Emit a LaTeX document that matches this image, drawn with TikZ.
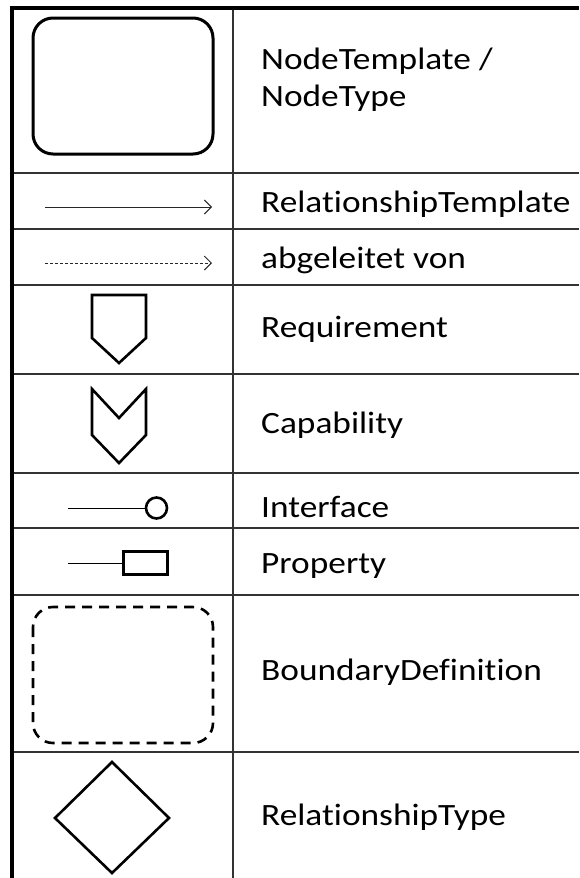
\documentclass[tikz,border=0pt]{standalone}
\usepackage{fontspec}
\setmainfont{Carlito}[FakeStretch=1.14,Ligatures=NoCommon]
\usetikzlibrary{arrows.meta}
\begin{document}
\begin{tikzpicture}[x=1pt,y=-1pt,
  grid/.style={line width=1.3pt,draw=black!80},
  frame/.style={line width=4pt,draw=black},
  symbol/.style={line width=2.6pt,draw=black,line join=miter},
  label/.style={anchor=base west,inner sep=0pt,font=\fontsize{31}{37}\selectfont},
  relarrow/.style={line width=1pt,draw=black!85,-{Straight Barb[length=7pt,width=14pt,line width=1pt]}}]
\useasboundingbox (0,0) rectangle (579,878);
% table grid
\foreach \y in {173,229,285,374,473,528,595,752}
  \draw[grid] (12,\y) -- (579,\y);
\draw[grid] (233,8) -- (233,878);
\draw[frame] (10,8) -- (579,8);
\draw[frame] (12,6) -- (12,878);

% symbols
\draw[symbol,line width=3pt,rounded corners=20pt] (33,18) rectangle (213,154);
\coordinate (r1) at (45,207); \coordinate (r2) at (212,207);
\draw[relarrow] (r1) -- (r2);
\coordinate (d1) at (45,263); \coordinate (d2) at (212,263);
\draw[relarrow,dash pattern=on 3pt off 2pt] (d1) -- (d2);
\draw[symbol] (92,295) -- (146,295) -- (146,338) -- (119,363) -- (92,338) -- cycle;
\draw[symbol] (92,389) -- (119,418) -- (146,389) -- (146,435) -- (119,463) -- (92,435) -- cycle;
\node[circle,symbol,minimum size=21pt,inner sep=0pt] (ifc) at (156.5,508) {};
\coordinate (ifl) at (68,508);
\draw[line width=1pt] (ifl) -- (ifc.west);
\node[rectangle,symbol,minimum width=44pt,minimum height=23pt,inner sep=0pt] (prp) at (145.5,563) {};
\coordinate (prl) at (68,563);
\draw[line width=1pt] (prl) -- (prp.west);
\draw[symbol,rounded corners=20pt,dash pattern=on 10pt off 7pt] (33,607) rectangle (213,743);
\draw[symbol] (112,762) -- (169,818) -- (112,873) -- (55,818) -- cycle;

% labels
\node[label] at (261,69) {NodeTemplate /};
\node[label] at (261,106) {NodeType};
\node[label] at (261,212) {RelationshipTemplate};
\node[label] at (261,268) {abgeleitet von};
\node[label] at (261,337) {Requirement};
\node[label] at (261,433) {Capability};
\node[label] at (261,517) {Interface};
\node[label] at (261,573) {Property};
\node[label] at (261,680) {BoundaryDefinition};
\node[label] at (261,825) {RelationshipType};
\end{tikzpicture}
\end{document}
